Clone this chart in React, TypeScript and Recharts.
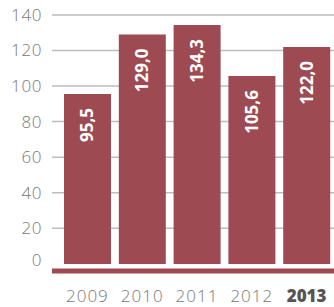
import { Bar, BarChart, CartesianGrid, LabelList, XAxis, YAxis } from "recharts";

const years = ['2009', '2010', '2011', '2012', '2013'];
const values = [95.5, 129.0, 134.3, 105.6, 122.0];
const yTicks = [0, 20, 40, 60, 80, 100, 120, 140];
const gridValues = [20, 40, 60, 80, 100, 120, 140];
const highlightYear = '2013';

const data = years.map((year, i) => ({ year, value: values[i] }));

const BAR_COLOR = '#9d4a52';
const FONT = '"Open Sans", sans-serif';

const fmt = (v: number) => v.toFixed(1).replace('.', ',');

const YearTick = (props: any) => {
    const { x, y, payload } = props;
    const bold = payload.value === highlightYear;
    return (
        <text
            x={x}
            y={y}
            dy={23}
            textAnchor="middle"
            fontFamily={FONT}
            fontSize={17}
            fontWeight={bold ? 800 : 300}
            letterSpacing={bold ? 0 : 1}
            fill={bold ? '#555' : '#777'}
        >
            {payload.value}
        </text>
    );
};

const YTick = (props: any) => {
    const { x, y, payload } = props;
    return (
        <text
            x={x}
            y={y}
            dy={payload.value === 0 ? 2 : 6}
            textAnchor="end"
            fontFamily={FONT}
            fontSize={17}
            fontWeight={300}
            letterSpacing={0.6}
            fill="#777"
        >
            {payload.value}
        </text>
    );
};

const ValueLabel = (props: any) => {
    const { x, y, width, value } = props;
    const px = x + width / 2 + 6;
    const py = y + 14;
    return (
        <text
            x={px}
            y={py}
            transform={`rotate(-90, ${px}, ${py})`}
            textAnchor="end"
            fontFamily={FONT}
            fontSize={17}
            fontWeight={700}
            fill="#fff"
        >
            {fmt(value)}
        </text>
    );
};

export default function App() {
    return (
        <div style={{ position: 'absolute', top: 0, left: 0 }}>
            <BarChart
                width={334}
                height={307}
                data={data}
                margin={{ top: 6, right: 0, left: 0, bottom: 6 }}
            >
                <CartesianGrid vertical={false} horizontalValues={gridValues} stroke="#bdbdbd" strokeWidth={1.5} />
                <YAxis
                    width={52}
                    domain={[-4, 145]}
                    ticks={yTicks}
                    interval={0}
                    axisLine={false}
                    tickLine={false}
                    tickSize={8}
                    tickMargin={2}
                    tick={<YTick />}
                />
                <XAxis
                    dataKey="year"
                    height={30}
                    padding={{ left: 8, right: 0 }}
                    axisLine={{ stroke: BAR_COLOR, strokeWidth: 5 }}
                    tickLine={false}
                    tick={<YearTick />}
                    interval={0}
                />
                <Bar dataKey="value" fill={BAR_COLOR} barSize={47} isAnimationActive={false}>
                    <LabelList dataKey="value" content={<ValueLabel />} />
                </Bar>
            </BarChart>
        </div>
    );
}
